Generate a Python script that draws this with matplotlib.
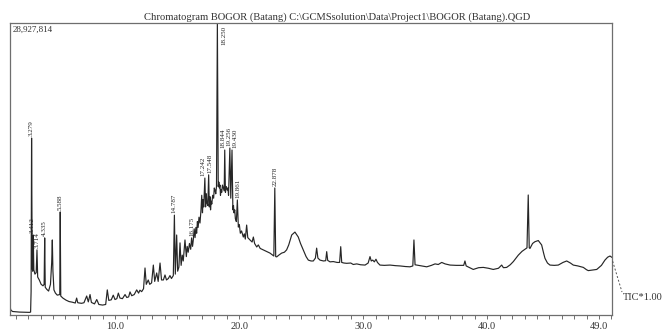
import matplotlib
matplotlib.use("Agg")
import matplotlib.pyplot as plt
from matplotlib.ticker import FixedLocator, MultipleLocator

TITLE = "Chromatogram BOGOR (Batang) C:\\GCMSsolution\\Data\\Project1\\BOGOR (Batang).QGD"
FULL_SCALE = "28,927,814"
TRACE_NAME = "TIC*1.00"

# Labelled peaks: retention time (min) and height (% of full scale)
peak_labels = ["3.279", "3.412", "3.714", "4.335", "5.588", "14.787", "16.175",
               "17.242", "17.548", "18.250", "18.844", "19.256", "19.430",
               "19.861", "22.878"]
peak_rt = [3.279, 3.412, 3.714, 4.335, 5.588, 14.787, 16.175,
           17.242, 17.548, 18.250, 18.844, 19.256, 19.430, 19.861, 22.878]
peak_height = [60.6, 27.4, 22.3, 26.4, 35.3, 34.2, 26.4,
               46.9, 48.0, 100.0, 56.5, 57.2, 56.5, 39.4, 43.5]
# horizontal nudge (min) of each label so that crowded labels stay legible
label_shift = [0, -0.08, 0.05, 0, 0, 0, 0,
               -0.12, 0.08, 0, -0.14, -0.08, 0.2, 0.05, 0]

# Rest of the TIC trace: retention time (min) and intensity (% of full scale)
trace_rt = [
    1.54, 1.62, 1.75, 2.30, 3.10, 3.20, 3.24,
    3.33, 3.37, 3.46, 3.55, 3.65, 3.77, 3.90, 4.05, 4.20, 4.29,
    4.38, 4.50, 4.65, 4.80, 4.90, 4.95, 5.00, 5.08, 5.20, 5.35, 5.55,
    5.63, 5.80, 6.05, 6.30, 6.55, 6.80, 6.91, 7.00, 7.30, 7.50, 7.72, 7.85,
    7.99, 8.10, 8.35, 8.53, 8.70, 9.00, 9.25, 9.38, 9.50, 9.70, 9.86, 10.00,
    10.15, 10.27, 10.40, 10.60, 10.81, 10.95, 11.10, 11.21, 11.35, 11.55,
    11.75, 11.90, 12.01, 12.15, 12.30, 12.42, 12.52, 12.68, 12.80, 12.95,
    13.09, 13.20, 13.36, 13.48, 13.63, 13.75, 13.90, 14.03, 14.15, 14.30,
    14.43, 14.55, 14.70,
    14.86, 14.97, 15.05, 15.15, 15.24, 15.33, 15.42, 15.50, 15.64, 15.75,
    15.82, 15.90, 16.00, 16.10, 16.25, 16.31, 16.38, 16.45, 16.52, 16.58,
    16.64, 16.70, 16.77, 16.85, 16.93, 16.99, 17.05, 17.10, 17.15, 17.30,
    17.36, 17.40, 17.48, 17.60, 17.66, 17.70, 17.75, 17.80, 17.87, 17.95,
    18.00, 18.06, 18.12, 18.18, 18.32, 18.37, 18.41, 18.46, 18.50, 18.55,
    18.60, 18.66, 18.73, 18.80, 18.90, 18.97, 19.05, 19.10, 19.15, 19.33,
    19.50, 19.55, 19.59, 19.65, 19.70, 19.78, 19.94, 20.02, 20.10, 20.20,
    20.34, 20.42, 20.50, 20.61, 20.70, 20.88, 21.05, 21.15, 21.25, 21.42,
    21.55, 21.70, 21.95, 22.20, 22.49,
    22.70, 22.80, 22.95, 23.03, 23.20, 23.43, 23.65, 23.83, 24.00, 24.24,
    24.50, 24.77, 24.95, 25.17, 25.40, 25.58, 25.80, 25.98, 26.15, 26.25,
    26.35, 26.52, 26.80, 26.98, 27.06, 27.14, 27.33, 27.59, 27.90, 28.10,
    28.19, 28.27, 28.45, 28.67, 29.00, 29.20, 29.48, 29.80, 30.15, 30.40,
    30.55, 30.65, 30.77, 30.90, 31.03, 31.15, 31.35, 31.70, 32.16, 32.60,
    32.97, 33.40, 33.77, 34.00, 34.09, 34.18, 34.31, 34.70, 35.12, 35.50,
    35.79, 36.05, 36.33, 36.60, 37.00, 37.50, 38.10, 38.20, 38.30, 38.87,
    39.30, 39.68, 40.10, 40.48, 40.90, 41.16, 41.30, 41.56, 41.85, 42.10,
    42.50, 42.80, 43.04, 43.20, 43.30, 43.38, 43.44, 43.65, 43.84, 44.11,
    44.38, 44.55, 44.65, 44.85, 45.05, 45.40, 45.72, 46.10, 46.40, 46.70,
    46.93, 47.30, 47.74, 48.00, 48.14, 48.50, 48.82, 49.20, 49.48, 49.70,
    49.89, 50.02,
]
trace_int = [
    2.7, 1.6, 1.2, 1.0, 0.9, 1.0, 8.0,
    16.0, 15.0, 15.5, 14.0, 14.5, 13.0, 12.0, 10.5, 10.0, 10.5,
    9.5, 8.8, 8.2, 10.5, 18.0, 25.7, 15.0, 8.6, 7.5, 6.8, 7.0,
    6.5, 5.8, 5.1, 4.6, 4.4, 4.1, 5.8, 4.2, 4.0, 4.2, 6.5, 4.5,
    7.0, 4.3, 3.8, 5.3, 3.6, 3.4, 3.6, 8.6, 5.0, 5.2, 6.8, 5.3,
    5.6, 7.5, 5.8, 5.6, 7.0, 6.0, 6.2, 7.9, 6.6, 7.0,
    8.6, 7.5, 8.5, 8.0, 9.0, 16.1, 10.5, 12.0, 10.5, 11.0,
    17.1, 11.5, 14.4, 11.5, 17.8, 12.0, 12.0, 13.7, 12.0, 12.5,
    13.5, 12.5, 13.5,
    14.0, 27.4, 15.0, 16.4, 24.7, 17.0, 20.5, 18.5, 25.7, 20.0,
    23.5, 21.5, 24.5, 22.5, 23.5, 25.7, 29.5, 26.5, 30.0, 28.0,
    32.0, 30.0, 33.5, 31.5, 36.0, 41.0, 35.0, 39.5, 37.0, 37.0,
    41.5, 38.5, 37.5, 37.0, 40.5, 36.0, 39.0, 38.0, 41.0, 40.0,
    43.5, 42.8, 41.5, 44.0, 44.0, 45.5, 43.5, 44.5, 41.0, 43.0,
    42.0, 44.5, 43.5, 42.5, 42.0, 44.0, 42.8, 43.5, 41.0, 40.0,
    36.0, 37.5, 35.0, 36.0, 33.0, 32.0, 30.1, 31.0, 28.0, 28.8,
    26.7, 27.8, 26.0, 30.8, 26.5, 25.7, 25.0, 26.7, 24.5, 23.3,
    24.0, 22.8, 22.3, 21.8, 21.2,
    20.5, 20.2, 20.0, 19.9, 20.5, 21.2, 21.5, 22.3, 24.0, 27.4,
    28.4, 26.7, 24.5, 22.3, 20.0, 18.8, 18.5, 18.5, 19.5, 22.9,
    19.5, 18.8, 18.5, 18.6, 21.7, 18.7, 18.2, 18.3, 18.0, 18.0,
    23.4, 18.0, 17.8, 17.7, 17.8, 17.3, 17.5, 17.2, 17.1, 17.8,
    20.0, 18.5, 18.8, 18.2, 19.1, 18.0, 17.1, 17.0, 17.1, 16.9,
    16.8, 16.6, 16.5, 16.8, 25.7, 17.2, 17.1, 16.8, 16.5, 17.0,
    17.5, 17.3, 18.0, 17.5, 17.1, 17.0, 17.0, 18.5, 16.8, 15.6,
    16.2, 16.3, 16.0, 15.6, 16.0, 17.1, 16.2, 16.3, 17.2, 18.3,
    20.5, 21.8, 22.5, 23.0, 41.1, 23.0, 22.8, 24.5, 25.1, 25.5,
    24.0, 21.0, 19.4, 17.8, 17.1, 17.0, 17.1, 18.0, 18.5, 17.8,
    17.1, 16.8, 16.3, 15.5, 15.2, 15.4, 15.6, 17.0, 18.8, 19.8,
    20.2, 19.8,
]

x_major = [10.0, 20.0, 30.0, 40.0, 49.0]

# merge the labelled apexes into the trace
points = sorted(zip(trace_rt + peak_rt, trace_int + peak_height))
xs = [p[0] for p in points]
ys = [p[1] for p in points]

serif = ["Liberation Serif", "DejaVu Serif"]

fig = plt.figure(figsize=(6.62, 3.32), dpi=100)
ax = fig.add_axes([10 / 662, 17 / 332, 602 / 662, 292 / 332])

ax.plot(xs, ys, color="#262626", lw=0.85, solid_joinstyle="round")
ax.set_xlim(1.54, 50.05)
ax.set_ylim(0, 100)

for s in ax.spines.values():
    s.set_color("#6e6e6e")
    s.set_linewidth(0.9)

ax.yaxis.set_visible(False)
ax.xaxis.set_major_locator(FixedLocator(x_major))
ax.xaxis.set_minor_locator(MultipleLocator(1.0))
ax.set_xticklabels([f"{v:.1f}" for v in x_major], fontfamily=serif,
                   fontsize=7.5, color="#333333")
ax.tick_params(axis="x", which="both", direction="out", length=3,
               width=0.7, color="#6e6e6e", pad=2)

# retention-time labels above each labelled apex
for lab, t, h, dx in zip(peak_labels, peak_rt, peak_height, label_shift):
    if h >= 99:
        ax.text(t + 0.35, 99.0, lab, rotation=90, ha="left", va="top",
                fontsize=5, fontfamily=serif, color="#222222")
    else:
        ax.text(t + dx, h + 0.6, lab, rotation=90, ha="center", va="bottom",
                fontsize=5, fontfamily=serif, color="#222222")

ax.text(0.004, 0.99, FULL_SCALE, transform=ax.transAxes, ha="left", va="top",
        fontsize=6.5, fontfamily=serif, color="#333333")

fig.text(337 / 662, 1 - 17 / 332, TITLE, ha="center", va="center",
         fontsize=7.6, fontfamily=serif, color="#333333")

# dashed leader from the end of the trace to the trace name
end_x, end_y = xs[-1], ys[-1]
x0, y0 = fig.transFigure.inverted().transform(ax.transData.transform((end_x, end_y)))
fig.add_artist(plt.Line2D([x0 + 1 / 662, 622 / 662], [y0 - 4 / 332, 1 - 292 / 332],
                          transform=fig.transFigure, color="#555555", lw=0.7,
                          ls=(0, (2, 2))))
fig.text(623 / 662, 1 - 298 / 332, TRACE_NAME, ha="left", va="center",
         fontsize=7.5, fontfamily=serif, color="#333333")

fig.savefig("out.png", dpi=100)
